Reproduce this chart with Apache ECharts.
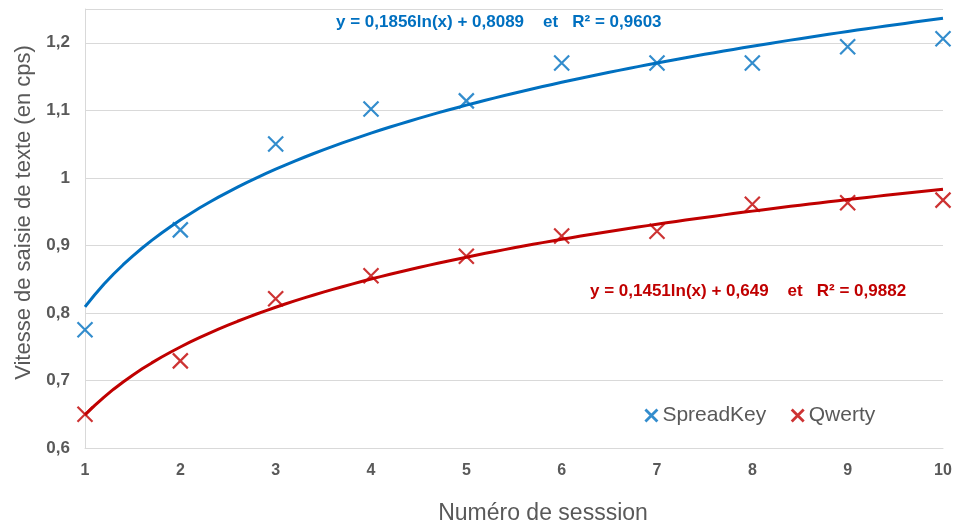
<!DOCTYPE html>
<html><head><meta charset="utf-8">
<script src="https://cdn.jsdelivr.net/npm/echarts@6/dist/echarts.min.js"></script>
<style>html,body{margin:0;padding:0;background:#fff}#c{width:953px;height:523px}</style>
</head><body><div id="c"></div>
<script>
const sessions = [1,2,3,4,5,6,7,8,9,10];
const spreadKey = [0.775,0.923,1.050,1.102,1.114,1.170,1.170,1.170,1.194,1.206];
const qwerty = [0.650,0.729,0.821,0.855,0.884,0.914,0.921,0.961,0.963,0.967];
// trendline coefficients as printed on the chart: y = a ln(x) + b
const spreadKeyFit = {a:0.1856, b:0.8089};
const qwertyFit = {a:0.1451, b:0.649};
const yTicks = [0.6,0.7,0.8,0.9,1.0,1.1,1.2];

function trend(f){
  const pts=[];
  for(let i=0;i<=90;i++){const x=1+i*0.1;pts.push([x,f.a*Math.log(x)+f.b]);}
  return pts;
}
const cross='path://M0,0L10,10M10,0L0,10';
const BLUE='#0070C0', RED='#C00000', GREY='#595959';
const FONT='Liberation Sans, Arial, sans-serif';
const chart=echarts.init(document.getElementById('c'));
chart.setOption({
  animation:false,
  grid:{left:85,right:10,top:9,bottom:75,containLabel:false,outerBoundsMode:'none'},
  legend:{
    data:['SpreadKey','Qwerty'],
    left:639, top:400, itemWidth:12, itemHeight:12, itemGap:24,
    itemStyle:{borderWidth:2.8},
    textStyle:{color:GREY,fontSize:21,fontFamily:FONT}
  },
  xAxis:{
    type:'value',min:1,max:10,interval:1,
    name:'Numéro de sesssion',nameLocation:'middle',nameGap:54,
    nameTextStyle:{color:GREY,fontSize:23,fontFamily:FONT,padding:[0,0,0,58]},
    axisLine:{show:true,lineStyle:{color:'#d9d9d9',width:1}},
    axisTick:{show:false},
    splitLine:{show:false},
    axisLabel:{color:GREY,fontSize:16,fontWeight:'bold',margin:15,fontFamily:FONT}
  },
  yAxis:{
    type:'value',min:0.6,max:1.25,interval:0.1,
    name:'Vitesse de saisie de texte (en cps)',nameLocation:'middle',nameGap:50,
    nameTextStyle:{color:GREY,fontSize:22,fontFamily:FONT,padding:[0,0,0,32]},
    axisLine:{show:true,lineStyle:{color:'#d9d9d9',width:1}},
    axisTick:{show:false},
    splitLine:{show:true,lineStyle:{color:'#d9d9d9',width:1}},
    axisLabel:{color:GREY,fontSize:17,fontWeight:'bold',margin:15,fontFamily:FONT,
      formatter:v=>{const r=Math.round(v*10)/10; if(yTicks.indexOf(r)<0) return ''; return String(r).replace('.',',');}}
  },
  graphic:[
    {type:'text',left:336,top:14,style:{text:'y = 0,1856ln(x) + 0,8089    et   R² = 0,9603',fill:BLUE,font:'bold 17px Liberation Sans, Arial, sans-serif'}},
    {type:'text',left:590,top:283,style:{text:'y = 0,1451ln(x) + 0,649    et   R² = 0,9882',fill:RED,font:'bold 17px Liberation Sans, Arial, sans-serif'}}
  ],
  series:[
    {name:'SpreadKey',type:'scatter',data:sessions.map((x,i)=>[x,spreadKey[i]]),
     symbol:cross,symbolSize:15,itemStyle:{color:'rgba(0,0,0,0)',borderColor:BLUE,borderWidth:2.2},z:3},
    {name:'Qwerty',type:'scatter',data:sessions.map((x,i)=>[x,qwerty[i]]),
     symbol:cross,symbolSize:15,itemStyle:{color:'rgba(0,0,0,0)',borderColor:RED,borderWidth:2.2},z:3},
    {name:'trendSK',type:'line',data:trend(spreadKeyFit),showSymbol:false,smooth:false,
     lineStyle:{color:BLUE,width:3},silent:true,z:2},
    {name:'trendQ',type:'line',data:trend(qwertyFit),showSymbol:false,smooth:false,
     lineStyle:{color:RED,width:3},silent:true,z:2}
  ]
});
</script></body></html>
